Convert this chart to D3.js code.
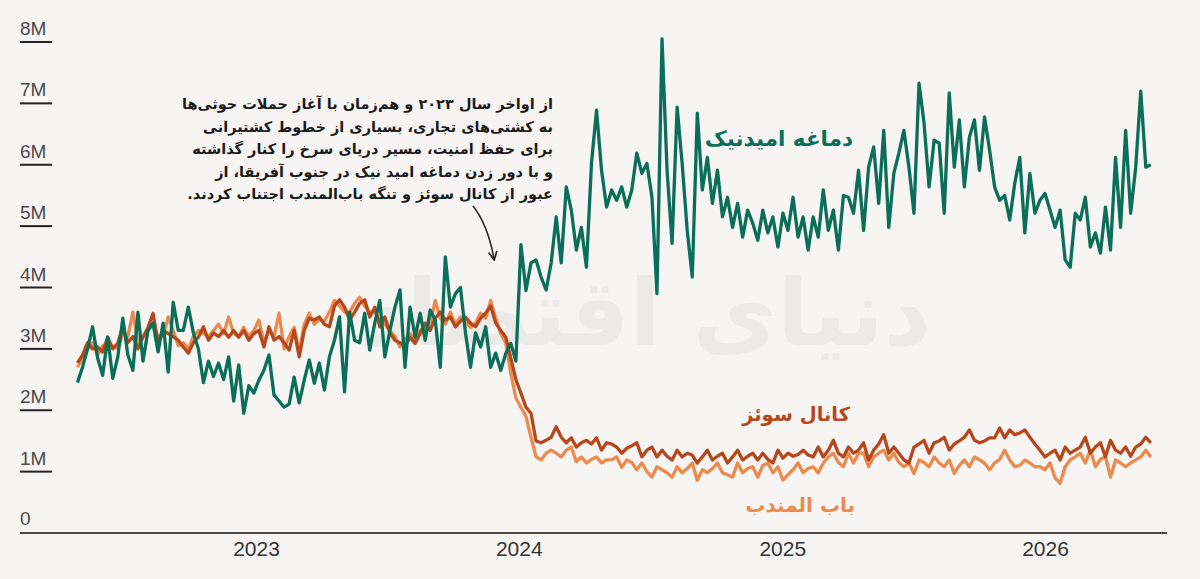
<!DOCTYPE html>
<html>
<head>
<meta charset="utf-8">
<script src="https://cdn.jsdelivr.net/npm/d3@7"></script>
<style>
  body { margin: 0; background: #f6f5f3; }
  svg { display: block; }
</style>
</head>
<body>
<div id="chart"></div>
<script>
// Weekly shipping volumes (millions), first week starts late April 2022
const startDate = new Date(2022, 3, 28);
const stepDays = 7;

const capeOfGoodHope = [
  2.45, 2.7, 3.0, 3.36, 2.85, 2.57, 3.19, 2.52, 2.87, 3.5,
  2.9, 2.65, 3.6, 2.8, 3.3, 3.42, 2.95, 3.42, 2.62, 3.76,
  3.3, 3.3, 3.68, 3.26, 3.0, 2.45, 2.8, 2.55, 2.77, 2.5,
  2.87, 2.15, 2.74, 1.95, 2.4, 2.28, 2.49, 2.65, 2.9, 2.25,
  2.15, 2.05, 2.1, 2.54, 2.12, 2.49, 2.82, 2.44, 2.77, 2.33,
  2.87, 3.14, 3.52, 2.3, 3.6, 3.14, 3.1, 3.58, 2.98, 3.42,
  3.79, 2.87, 3.3, 3.68, 3.96, 2.7, 3.68, 3.19, 3.58, 3.14,
  3.63, 3.47, 2.7, 4.5, 3.68, 3.9, 4.0, 3.26, 2.7, 3.26,
  3.03, 3.36, 2.7, 2.93, 2.65, 2.93, 3.09, 2.8, 4.7, 3.95,
  4.4, 4.45, 4.17, 3.96, 4.4, 5.15, 4.4, 5.64, 5.26, 4.61,
  4.98, 4.33, 6.02, 6.89, 5.91, 5.31, 5.59, 5.42, 5.64, 5.31,
  5.59, 6.19, 5.86, 6.02, 5.47, 3.9, 8.05, 5.91, 4.72, 6.94,
  6.02, 4.93, 4.17, 6.84, 5.59, 6.12, 5.37, 5.91, 5.15, 5.47,
  4.98, 5.37, 4.82, 5.26, 5.05, 4.77, 5.26, 4.89, 5.15, 4.66,
  5.21, 4.93, 5.47, 4.82, 5.15, 4.61, 5.15, 4.82, 5.59, 4.93,
  5.26, 4.61, 5.5, 5.47, 5.21, 5.91, 4.93, 5.96, 6.29, 5.37,
  6.56, 4.98, 5.86, 6.19, 6.56, 5.96, 5.21, 7.33, 6.68, 5.64,
  6.4, 6.35, 5.21, 7.17, 5.96, 6.73, 5.64, 6.45, 6.73, 5.91,
  6.78, 6.24, 5.64, 5.42, 5.5, 5.1, 5.7, 6.12, 4.89,
  5.86, 5.21, 5.42, 5.53, 5.26, 4.98, 5.26, 4.45, 4.33, 5.21,
  5.1, 5.47, 4.66, 4.89, 4.56, 5.31, 4.61, 6.12, 4.98, 6.56,
  5.21, 5.96, 7.2, 5.96, 6.0
];

const suezCanal = [
  2.77, 2.9, 3.1, 3.0, 3.03, 2.95, 3.19, 3.0, 3.09, 3.36,
  3.1, 3.2, 3.0, 3.19, 3.35, 3.58, 3.1, 3.3, 3.25, 3.2,
  3.14, 3.03, 2.93, 3.1, 3.19, 3.36, 3.14, 3.26, 3.2, 3.3,
  3.19, 3.3, 3.19, 3.3, 3.14, 3.25, 3.3, 3.03, 3.36, 3.14,
  3.2, 3.1, 2.98, 3.3, 2.87, 3.3, 3.5, 3.47, 3.52, 3.4,
  3.36, 3.7, 3.8, 3.68, 3.47, 3.6, 3.74, 3.8, 3.52, 3.68,
  3.36, 3.52, 3.26, 3.14, 3.1, 3.03, 3.19, 3.09, 3.25, 3.42,
  3.3, 3.5, 3.6, 3.47, 3.52, 3.36, 3.45, 3.52, 3.42, 3.36,
  3.5, 3.58, 3.7, 3.42, 3.3, 3.19, 2.85, 2.5, 2.28, 2.05,
  1.95, 1.5, 1.47, 1.51, 1.56, 1.73, 1.56, 1.47, 1.55, 1.4,
  1.47, 1.51, 1.45, 1.55, 1.35, 1.47, 1.45, 1.4, 1.3, 1.38,
  1.42, 1.47, 1.24, 1.35, 1.4, 1.24, 1.35, 1.25, 1.19, 1.35,
  1.24, 1.3, 1.27, 1.14, 1.24, 1.35, 1.19, 1.25, 1.3, 1.14,
  1.24, 1.35, 1.19, 1.25, 1.3, 1.19, 1.3, 1.2, 1.14, 1.35,
  1.22, 1.3, 1.25, 1.28, 1.35, 1.27, 1.24, 1.4, 1.24, 1.35,
  1.51, 1.3, 1.24, 1.4, 1.3, 1.35, 1.47, 1.19, 1.35, 1.45,
  1.6, 1.3, 1.4, 1.3, 1.19, 1.14, 1.4, 1.45, 1.51, 1.3,
  1.47, 1.5, 1.56, 1.35, 1.45, 1.5, 1.56, 1.68, 1.51, 1.47,
  1.5, 1.55, 1.55, 1.71, 1.55, 1.68, 1.6, 1.63, 1.68,
  1.56, 1.45, 1.35, 1.24, 1.3, 1.35, 1.19, 1.4, 1.3, 1.35,
  1.4, 1.56, 1.3, 1.4, 1.47, 1.24, 1.51, 1.35, 1.3, 1.4,
  1.25, 1.4, 1.45, 1.56, 1.47
];

const babElMandeb = [
  2.7, 2.85, 3.0, 3.1, 2.9, 3.05, 3.1, 3.05, 3.0, 3.25,
  3.2, 3.6, 3.1, 3.2, 3.3, 3.4, 3.2, 3.2, 3.52, 3.3,
  3.05, 3.1, 3.0, 3.2, 3.3, 3.25, 3.2, 3.3, 3.4, 3.25,
  3.52, 3.25, 3.2, 3.35, 3.2, 3.3, 3.47, 3.1, 3.3, 3.2,
  3.58, 3.0, 3.2, 3.35, 2.95, 3.4, 3.58, 3.4, 3.47, 3.45,
  3.6, 3.79, 3.7, 3.6, 3.6, 3.74, 3.84, 3.7, 3.6, 3.6,
  3.45, 3.4, 3.3, 3.2, 3.03, 3.15, 3.25, 3.15, 3.3, 3.35,
  3.4, 3.79, 3.5, 3.4, 3.6, 3.4, 3.52, 3.45, 3.35, 3.42,
  3.58, 3.5, 3.79, 3.5, 3.25, 3.1, 2.6, 2.2, 2.05, 1.9,
  1.56, 1.24, 1.19, 1.3, 1.35, 1.3, 1.24, 1.35, 1.4, 1.16,
  1.24, 1.14, 1.2, 1.24, 1.14, 1.19, 1.19, 1.24, 1.07, 1.19,
  1.15, 1.03, 1.14, 1.0, 0.91, 1.08, 1.03, 0.98, 0.91, 1.08,
  0.98, 1.05, 1.14, 0.86, 1.03, 0.98, 1.05, 1.14, 0.98, 0.95,
  0.91, 1.14, 0.98, 1.05, 1.08, 0.91, 1.1, 1.14, 0.98, 1.08,
  0.86, 0.95, 1.03, 1.14, 0.98, 1.05, 1.08, 0.98, 1.14, 1.24,
  1.3, 1.15, 1.08, 1.3, 1.14, 1.3, 1.3, 1.08, 1.24, 1.3,
  1.35, 1.19, 1.3, 1.15, 1.08, 1.14, 0.97, 1.19, 1.15, 1.08,
  1.24, 1.14, 1.08, 1.19, 0.97, 1.1, 1.19, 1.08, 1.24, 1.19,
  1.14, 1.03, 1.14, 1.2, 1.35, 1.19, 1.08, 1.1, 1.19,
  1.14, 1.08, 1.08, 1.03, 1.14, 0.9, 0.81, 1.08, 1.19, 1.24,
  1.3, 1.14, 1.35, 1.08, 1.2, 1.24, 0.91, 1.19, 1.14, 1.08,
  1.14, 1.19, 1.24, 1.35, 1.24
];

const yTicks = [0, 1, 2, 3, 4, 5, 6, 7, 8];
const yTickLabels = ["0", "1M", "2M", "3M", "4M", "5M", "6M", "7M", "8M"];
const xTickYears = [2023, 2024, 2025, 2026];

const seriesNames = ["باب المندب", "کانال سوئز", "دماغه امیدنیک"];
const noteLines = [
  "از اواخر سال ۲۰۲۳ و هم‌زمان با آغاز حملات حوثی‌ها",
  "به کشتی‌های تجاری، بسیاری از خطوط کشتیرانی",
  "برای حفظ امنیت، مسیر دریای سرخ را کنار گذاشته",
  "و با دور زدن دماغه امید نیک در جنوب آفریقا، از",
  "عبور از کانال سوئز و تنگه باب‌المندب اجتناب کردند."
];

// Set dimensions
const width = 1200;
const height = 579;
const baseY = 533;

const svg = d3.select("#chart")
  .append("svg")
  .attr("width", width)
  .attr("height", height);

svg.append("rect")
  .attr("width", width)
  .attr("height", height)
  .attr("fill", "#f6f5f3");

// Scales
const xScale = d3.scaleTime()
  .domain([new Date(2023, 0, 1), new Date(2026, 0, 1)])
  .range([256, 1045]);

const yScale = d3.scaleLinear()
  .domain([0, 8])
  .range([baseY, 42]);

const dates = capeOfGoodHope.map((d, i) => d3.timeDay.offset(startDate, i * stepDays));

// faint watermark
svg.append("text")
  .attr("x", 645)
  .attr("y", 345)
  .attr("text-anchor", "middle")
  .attr("font-family", "DejaVu Sans, sans-serif")
  .attr("font-weight", "bold")
  .attr("font-size", 92)
  .attr("fill", "#ebeae8")
  .attr("direction", "rtl")
  .text("دنیای اقتصاد");

/*
  Axes
*/

// y labels with short rule under each
const yAxis = svg.append("g");
yAxis.selectAll("text")
  .data(yTicks)
  .enter()
  .append("text")
  .attr("x", 20)
  .attr("y", d => yScale(d) - (d === 0 ? 8 : 7))
  .attr("font-family", "Liberation Sans, Arial, sans-serif")
  .attr("font-size", 19)
  .attr("fill", "#4a4a4a")
  .text((d, i) => yTickLabels[i]);

yAxis.selectAll("line")
  .data(yTicks.filter(d => d > 0))
  .enter()
  .append("line")
  .attr("x1", 20)
  .attr("x2", 52)
  .attr("y1", d => yScale(d))
  .attr("y2", d => yScale(d))
  .attr("stroke", "#222")
  .attr("stroke-width", 2);

// baseline
svg.append("line")
  .attr("x1", 20)
  .attr("x2", 1167)
  .attr("y1", baseY)
  .attr("y2", baseY)
  .attr("stroke", "#111")
  .attr("stroke-width", 1.5);

// x axis: year labels only
svg.append("g")
  .attr("transform", `translate(0, ${baseY + 5})`)
  .call(d3.axisBottom(xScale)
    .tickValues(xTickYears.map(y => new Date(y, 0, 1)))
    .tickFormat(d3.timeFormat("%Y"))
    .tickSize(0))
  .call(g => g.select(".domain").remove())
  .selectAll("text")
  .attr("font-family", "Liberation Sans, Arial, sans-serif")
  .attr("font-size", 21)
  .attr("fill", "#333");

/*
  Lines
*/

const line = d3.line()
  .x((d, i) => xScale(dates[i]))
  .y(d => yScale(d));

const series = [
  {values: babElMandeb, color: "#ec8a4e"},
  {values: suezCanal, color: "#b5471d"},
  {values: capeOfGoodHope, color: "#0b6e57"}
];

svg.selectAll(".series")
  .data(series)
  .enter()
  .append("path")
  .attr("class", "series")
  .attr("d", d => line(d.values))
  .attr("fill", "none")
  .attr("stroke", d => d.color)
  .attr("stroke-width", 3.3)
  .attr("stroke-linejoin", "round");

/*
  Labels
*/

const labelPos = [
  {x: 855, y: 512, size: 20},
  {x: 850, y: 421, size: 19.5},
  {x: 853, y: 146, size: 21.5}
];

svg.selectAll(".series-label")
  .data(seriesNames)
  .enter()
  .append("text")
  .attr("class", "series-label")
  .attr("x", (d, i) => labelPos[i].x)
  .attr("y", (d, i) => labelPos[i].y)
  .attr("text-anchor", "start")
  .attr("direction", "rtl")
  .attr("font-family", "DejaVu Sans, sans-serif")
  .attr("font-weight", "bold")
  .attr("font-size", (d, i) => labelPos[i].size)
  .attr("fill", (d, i) => series[i].color)
  .text(d => d);

// annotation text
svg.selectAll(".note")
  .data(noteLines)
  .enter()
  .append("text")
  .attr("class", "note")
  .attr("x", 553)
  .attr("y", (d, i) => 109 + i * 22.5)
  .attr("text-anchor", "start")
  .attr("direction", "rtl")
  .attr("font-family", "DejaVu Sans, sans-serif")
  .attr("font-weight", "bold")
  .attr("font-size", 14.5)
  .attr("fill", "#1a1a1a")
  .text(d => d);

// arrow
svg.append("defs")
  .append("marker")
  .attr("id", "head")
  .attr("viewBox", "0 0 10 10")
  .attr("refX", 8)
  .attr("refY", 5)
  .attr("markerWidth", 7)
  .attr("markerHeight", 7)
  .attr("orient", "auto")
  .append("path")
  .attr("d", "M1,1 L9,5 L1,9")
  .attr("fill", "none")
  .attr("stroke", "#222")
  .attr("stroke-width", 1.6);

svg.append("path")
  .attr("d", "M473,206 Q488,225 494,259")
  .attr("fill", "none")
  .attr("stroke", "#222")
  .attr("stroke-width", 1.5)
  .attr("marker-end", "url(#head)");
</script>
</body>
</html>
